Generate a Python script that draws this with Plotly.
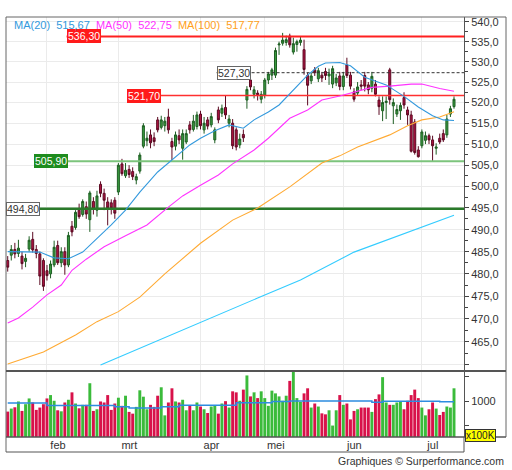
import math
import plotly.graph_objects as go

# ---------------- data ----------------
months = ["feb", "mrt", "apr", "mei", "jun", "jul"]
month_start = [11, 31, 54, 72, 94, 116]

opens = [483.0, 484.2, 485.5, 484.6, 484.0, 482.8, 485.6, 487.8, 485.5, 484.5,
         483.0, 480.7, 480.0, 482.0, 486.4, 482.5, 485.0, 482.0, 490.8, 490.5,
         494.5, 493.5, 495.3, 492.3, 496.5, 494.5, 500.5, 498.4, 496.4, 496.2,
         496.8, 498.7, 505.3, 502.5, 504.0, 503.5, 501.5, 503.6, 509.5, 510.8,
         512.2, 511.5, 515.8, 514.0, 514.4, 516.5, 510.6, 509.5, 512.0, 509.0,
         510.5, 514.6, 513.5, 514.2, 517.2, 513.4, 515.8, 514.6, 511.0, 518.2,
         517.4, 518.8, 515.0, 515.0, 513.4, 509.8, 512.3, 520.6, 525.5, 522.0,
         522.3, 520.8, 521.8, 525.5, 526.7, 526.7, 534.2, 534.6, 534.8, 536.4,
         532.4, 534.3, 534.8, 533.0, 526.6, 525.3, 528.0, 525.8, 526.7, 527.6,
         526.5, 524.5, 524.8, 526.5, 523.9, 529.2, 526.7, 522.6, 522.3, 524.3,
         526.6, 524.3, 523.5, 524.5, 520.6, 518.0, 520.0, 528.0, 519.2, 517.2,
         518.0, 521.2, 518.2, 517.0, 515.3, 508.6, 509.6, 510.9, 512.0, 511.0,
         509.0, 511.4, 512.5, 512.2, 517.2, 519.0]
highs = [484.0, 486.5, 487.0, 487.7, 485.0, 484.5, 488.5, 489.5, 486.5, 485.0,
         483.5, 482.0, 483.0, 487.5, 487.5, 486.0, 486.0, 489.5, 492.0, 494.5,
         496.0, 497.0, 496.5, 499.0, 497.5, 499.0, 501.2, 499.5, 497.5, 497.0,
         497.5, 505.5, 506.5, 505.5, 505.0, 504.5, 503.0, 508.0, 515.0, 513.0,
         513.5, 512.8, 516.5, 516.8, 516.5, 518.5, 511.5, 513.0, 513.5, 513.5,
         513.5, 515.5, 517.0, 517.8, 518.0, 516.5, 516.5, 517.5, 514.0, 519.0,
         519.5, 521.7, 517.0, 516.0, 514.0, 512.5, 513.5, 524.0, 526.5, 524.0,
         523.0, 522.8, 526.0, 527.5, 528.5, 533.5, 535.0, 537.2, 536.5, 537.0,
         536.0, 535.5, 536.3, 535.5, 527.3, 527.3, 528.7, 528.5, 527.5, 528.5,
         528.3, 529.0, 527.0, 527.5, 527.5, 531.0, 527.5, 523.5, 525.0, 525.5,
         527.5, 525.0, 527.5, 525.5, 521.5, 521.5, 521.5, 528.5, 521.0, 519.5,
         520.0, 522.5, 519.0, 518.0, 516.0, 509.5, 513.5, 513.0, 512.5, 512.0,
         510.2, 512.5, 513.5, 517.0, 519.2, 521.5]
lows = [480.5, 483.0, 483.5, 483.8, 481.0, 481.5, 485.0, 484.8, 483.5, 477.5,
        476.2, 478.5, 479.0, 481.5, 482.0, 481.5, 479.8, 481.5, 488.5, 490.0,
        492.5, 493.0, 492.5, 489.5, 493.5, 493.0, 497.5, 494.5, 491.0, 493.5,
        492.5, 498.0, 502.5, 502.0, 502.0, 501.5, 500.5, 503.0, 509.0, 509.5,
        509.0, 509.5, 512.8, 513.5, 513.0, 512.5, 506.2, 508.5, 510.0, 506.3,
        510.0, 512.5, 513.0, 513.5, 513.5, 512.5, 513.5, 514.0, 510.2, 515.0,
        516.5, 516.0, 514.0, 508.8, 508.5, 509.0, 510.5, 518.5, 523.0, 521.0,
        520.5, 519.8, 521.0, 524.5, 525.5, 526.0, 531.7, 534.0, 534.0, 533.5,
        531.8, 532.5, 534.0, 526.8, 519.3, 524.5, 526.5, 525.0, 525.0, 525.5,
        524.3, 523.5, 524.0, 523.0, 523.0, 526.0, 523.2, 520.2, 521.8, 523.0,
        522.7, 522.0, 522.5, 521.5, 517.0, 515.5, 516.0, 519.5, 514.8, 516.5,
        515.8, 518.5, 514.6, 508.0, 507.5, 506.8, 509.0, 510.0, 510.0, 506.0,
        507.5, 510.0, 510.5, 511.5, 516.5, 518.5]
closes = [481.5, 485.5, 484.5, 485.8, 482.3, 483.5, 487.6, 485.4, 484.6, 479.5,
          477.2, 479.6, 482.2, 486.0, 482.5, 485.0, 482.0, 488.7, 489.5, 494.0,
          493.0, 496.5, 493.6, 498.5, 494.7, 497.8, 498.4, 496.8, 495.0, 495.0,
          493.8, 505.0, 503.0, 503.8, 502.8, 502.3, 502.3, 507.4, 514.4, 511.4,
          510.3, 510.6, 513.4, 515.8, 515.5, 513.4, 509.3, 512.2, 511.0, 512.5,
          512.5, 513.4, 515.5, 517.0, 514.4, 515.0, 514.3, 516.6, 513.4, 515.8,
          518.6, 517.0, 516.0, 509.6, 509.3, 511.2, 511.5, 523.2, 523.8, 523.1,
          521.9, 522.0, 525.5, 527.0, 528.0, 532.8, 534.4, 535.4, 535.5, 534.2,
          534.5, 535.0, 535.4, 528.1, 524.2, 526.5, 527.3, 527.8, 526.0, 526.6,
          527.0, 528.3, 526.0, 523.9, 526.5, 526.6, 524.0, 520.8, 523.8, 524.0,
          524.0, 523.1, 526.4, 522.0, 519.0, 520.0, 520.3, 520.7, 520.0, 518.3,
          519.3, 519.4, 517.0, 508.3, 508.0, 507.0, 512.9, 512.0, 511.0, 509.6,
          509.3, 510.5, 511.0, 516.0, 518.5, 520.8]

volume = [786, 848, 875, 994, 800, 938, 1056, 973, 821, 869,
          938, 1056, 1125, 1008, 813, 792, 973, 1029, 1181, 952,
          854, 925, 925, 1368, 800, 834, 994, 973, 1125, 821,
          952, 1071, 904, 1112, 780, 744, 883, 1223, 1092, 834,
          925, 883, 1112, 1285, 709, 973, 1264, 994, 973, 1029,
          813, 917, 813, 973, 890, 834, 758, 890, 917, 744,
          952, 1000, 869, 1202, 1181, 1008, 1237, 1528, 1098, 1181,
          1063, 1202, 1063, 904, 1216, 1160, 1098, 1008, 1112, 1416,
          1632, 1063, 987, 1160, 1264, 869, 952, 890, 750, 730,
          813, 500, 813, 1125, 925, 952, 626, 800, 834, 869,
          869, 869, 780, 1042, 1139, 1493, 973, 925, 925, 973,
          987, 834, 1008, 1125, 1237, 1063, 869, 709, 834, 973,
          848, 716, 780, 890, 869, 1264]

ma20_idx = [0, 3, 9, 13, 17, 21, 25, 29, 33, 37, 42, 45, 48, 51, 54, 58, 62, 66, 69,
            73, 76, 80, 84, 87, 89, 93, 96, 100, 106, 111, 115, 119, 122, 125]
ma20_val = [485.0, 485.0, 484.9, 483.6, 483.4, 484.9, 488.0, 491.1, 494.5, 498.7,
            503.4, 505.5, 507.6, 509.8, 511.4, 513.2, 514.6, 513.8, 515.8, 517.7,
            519.4, 523.0, 526.7, 528.9, 529.7, 529.8, 529.0, 526.2, 524.3, 521.5,
            518.9, 516.8, 515.8, 515.67]
ma50_idx = [0, 3, 7, 11, 15, 18, 22, 27, 33, 39, 45, 49, 54, 59, 63, 69, 73, 79,
            84, 88, 93, 96, 102, 107, 113, 116, 121, 125]
ma50_val = [469.1, 470.2, 472.6, 475.3, 477.5, 480.8, 483.3, 486.1, 488.6, 491.1,
            495.2, 497.8, 500.3, 502.7, 505.3, 508.6, 511.4, 516.2, 518.2, 520.6,
            521.6, 522.3, 523.7, 524.0, 524.5, 524.5, 523.4, 522.75]
ma100_idx = [0, 10, 19, 25, 31, 37, 44, 54, 63, 70, 79, 88, 93, 98, 107, 112, 116, 121, 125]
ma100_val = [460.2, 462.8, 466.5, 469.4, 471.6, 474.8, 480.0, 486.9, 492.2, 495.0,
             499.9, 505.5, 507.2, 509.3, 512.2, 514.4, 515.8, 516.5, 517.77]
ma200_idx = [26, 54, 70, 82, 97, 125]
ma200_val = [460.0, 469.3, 474.6, 478.6, 484.9, 493.3]

volma_idx = [0, 11, 30, 34, 43, 48, 64, 74, 79, 102, 105, 121, 125]
volma_val = [960, 910, 885, 860, 885, 917, 970, 994, 1005, 980, 1000, 988, 988]

levels = [536.30, 521.70, 527.30, 505.90, 494.80]
level_from = [17, 34, 59, 8, 0]

# ---------------- styles ----------------
FONT = "Liberation Sans, Arial, sans-serif"
TXT = "#333333"
GRID = "#ebebeb"
C20, C50, C100, C200 = "#3399dd", "#ff33ff", "#ffaa33", "#33ccff"
level_style = [
    dict(line="#ff2020", width=2, dash="solid", bg="#ff1a1a", border="#ff1a1a", font="white"),
    dict(line="#ff3030", width=1.5, dash="solid", bg="#ff1a1a", border="#ff1a1a", font="white"),
    dict(line="#333333", width=1, dash="3px,2px", bg="white", border="#666666", font=TXT),
    dict(line="#7cc47c", width=2, dash="solid", bg="#1e8c1e", border="#1e8c1e", font="white"),
    dict(line="#2a7a2a", width=2.5, dash="solid", bg="white", border="#666666", font=TXT),
]

N = len(closes)
idx = list(range(N))
x_range = [-0.48, 127.8]
p_range = [458.7, 541.2]
v_range = [265, 1619]

# layout geometry (paper units)
L, R, T, B = 6, 48, 17, 18
W, H = 512, 470
pw, ph = W - L - R, H - T - B
main_bot = (452 - 371) / ph
vol_bot = (452 - 437) / ph
x_outer = (506 - L) / pw


def fmt(v, d):
    return f"{v:.{d}f}".replace(".", ",")


fig = go.Figure()

# levels
for lv, fr, st in zip(levels, level_from, level_style):
    fig.add_trace(go.Scatter(x=[max(fr - 0.5, x_range[0]), x_range[1]], y=[lv, lv],
                             mode="lines",
                             line=dict(color=st["line"], width=st["width"], dash=st["dash"]),
                             hoverinfo="skip", xaxis="x", yaxis="y"))

# moving averages
for xs, ys, c in [(ma200_idx, ma200_val, C200), (ma100_idx, ma100_val, C100),
                  (ma50_idx, ma50_val, C50), (ma20_idx, ma20_val, C20)]:
    fig.add_trace(go.Scatter(x=xs, y=ys, mode="lines", line=dict(color=c, width=1.1),
                             hoverinfo="skip", xaxis="x", yaxis="y"))

fig.add_trace(go.Candlestick(
    x=idx, open=opens, high=highs, low=lows, close=closes,
    increasing=dict(line=dict(color="#1d5e22", width=1), fillcolor="#3a9a3f"),
    decreasing=dict(line=dict(color="#5c0a22", width=1), fillcolor="#b01242"),
    whiskerwidth=0, xaxis="x", yaxis="y", hoverinfo="skip"))

vol_colors = ["#3bbb3b" if c >= o else "#d8124a" for o, c in zip(opens, closes)]
fig.add_trace(go.Bar(x=idx, y=volume, marker=dict(color=vol_colors, line=dict(width=0)),
                     width=0.82, xaxis="x2", yaxis="y2", hoverinfo="skip"))
fig.add_trace(go.Scatter(x=volma_idx, y=volma_val, mode="lines", line_shape="hv",
                         line=dict(color="#2d8ce0", width=1.5), xaxis="x2", yaxis="y2",
                         hoverinfo="skip"))

major = list(range(460, 541, 5))
major_txt = ["" if v == 460 else fmt(v, 1) for v in major]
minor_vals = [v + 2.5 for v in range(460, 540, 5)]

fig.update_layout(
    width=W, height=H, margin=dict(l=L, r=R, t=T, b=B),
    paper_bgcolor="white", plot_bgcolor="white", showlegend=False, hovermode=False,
    font=dict(family=FONT, size=11, color=TXT),
    boxgap=0.2, bargap=0.1,
    xaxis=dict(domain=[0, 1], range=x_range, anchor="y", tickvals=month_start,
               showticklabels=False, showgrid=True, gridcolor=GRID, gridwidth=1,
               zeroline=False, ticks="", showline=False,
               rangeslider=dict(visible=False)),
    yaxis=dict(domain=[main_bot, 1], type="log",
               range=[math.log10(p_range[0]), math.log10(p_range[1])],
               side="right", anchor="x", tickvals=major, ticktext=major_txt,
               ticks="outside", ticklen=4, tickcolor="#444", showline=True,
               linecolor="#555", linewidth=1, showgrid=True, gridcolor=GRID,
               zeroline=False, tickfont=dict(size=11, color=TXT),
               minor=dict(tickmode="array", tickvals=minor_vals, ticks="outside",
                          ticklen=3, tickcolor="#444", showgrid=False)),
    xaxis2=dict(domain=[0, 1], range=x_range, anchor="y2", tickvals=month_start,
                ticktext=months, ticklabelshift=11, showgrid=True, gridcolor=GRID,
                ticks="", zeroline=False, showline=False,
                tickfont=dict(size=11, color=TXT)),
    yaxis2=dict(domain=[vol_bot, main_bot], range=v_range, side="right", anchor="x2",
                tickvals=[500, 1000, 1500], ticktext=["", "1000", ""], ticks="outside",
                ticklen=4, tickcolor="#444", showline=True, linecolor="#555",
                showgrid=False, zeroline=False, tickfont=dict(size=11, color=TXT)),
)

# frame
frame = [
    dict(x0=0, x1=x_outer, y0=1, y1=1, w=1, c="#666"),
    dict(x0=0, x1=0, y0=0, y1=1, w=1, c="#666"),
    dict(x0=x_outer, x1=x_outer, y0=vol_bot, y1=1, w=1, c="#666"),
    dict(x0=0, x1=x_outer, y0=main_bot, y1=main_bot, w=2, c="#555"),
    dict(x0=0, x1=x_outer, y0=vol_bot, y1=vol_bot, w=1.5, c="#555"),
    dict(x0=0, x1=1, y0=0, y1=0, w=1, c="#555"),
    dict(x0=1, x1=1, y0=0, y1=vol_bot, w=1, c="#555"),
]
for f in frame:
    fig.add_shape(type="line", xref="paper", yref="paper", x0=f["x0"], x1=f["x1"],
                  y0=f["y0"], y1=f["y1"], line=dict(color=f["c"], width=f["w"]))

# level labels
for lv, fr, st in zip(levels, level_from, level_style):
    fig.add_annotation(x=max(fr - 0.5, x_range[0] + 0.02), y=math.log10(lv),
                       xref="x", yref="y",
                       xanchor="left", yanchor="middle", text=fmt(lv, 2), showarrow=False,
                       font=dict(size=10.5, color=st["font"], family=FONT),
                       bgcolor=st["bg"], bordercolor=st["border"], borderwidth=1,
                       borderpad=0)

# MA legend
leg = (f"<span style='color:{C20}'>MA(20)  {fmt(ma20_val[-1], 2)}</span>  "
       f"<span style='color:{C50}'>MA(50)  {fmt(ma50_val[-1], 2)}</span>  "
       f"<span style='color:#ffa020'>MA(100)  {fmt(ma100_val[-1], 2)}</span>")
fig.add_annotation(x=(12 - L) / pw, y=(452 - 25) / ph, xref="paper", yref="paper",
                   xanchor="left", yanchor="middle", text=leg, showarrow=False,
                   font=dict(size=11, family=FONT))

fig.add_annotation(x=(465 - L) / pw, y=(452 - 435) / ph, xref="paper", yref="paper",
                   xanchor="left", yanchor="middle", text="x100K", showarrow=False,
                   font=dict(size=10, color="#222", family=FONT), bgcolor="#ffff00",
                   bordercolor="#333", borderwidth=1, borderpad=0)

fig.add_annotation(x=x_outer, y=(452 - 461) / ph, xref="paper", yref="paper",
                   xanchor="right", yanchor="middle",
                   text="Graphiques © Surperformance.com", showarrow=False,
                   font=dict(size=10.5, color=TXT, family=FONT))

fig.write_html("out.html", config={"displayModeBar": False},
               post_script="document.body.style.margin='0';")
